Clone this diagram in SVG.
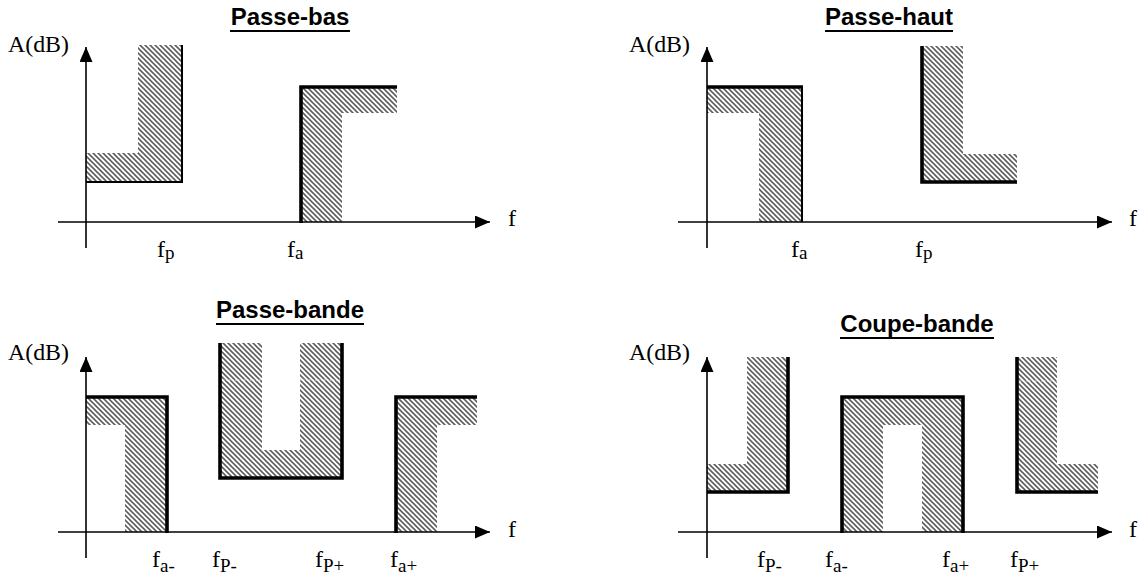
<svg xmlns="http://www.w3.org/2000/svg" width="1139" height="575" viewBox="0 0 1139 575">
  <defs>
    <!-- diagonal "\" hatching used for the template zones -->
    <pattern id="hatch" patternUnits="userSpaceOnUse" width="5" height="5">
      <rect width="5" height="5" fill="#ffffff"/>
      <path d="M-1,-1 L6,6 M-1,4 L1,6 M4,-1 L6,1" stroke="#5f5f5f" stroke-width="1.6"/>
    </pattern>
    <marker id="arrow" viewBox="0 0 15 13" refX="15" refY="6.5" markerWidth="15" markerHeight="13" markerUnits="userSpaceOnUse" orient="auto">
      <path d="M0,0 L15,6.5 L0,13 Z" fill="#000"/>
    </marker>
    <style>
      .axis-arrow { stroke: #000; stroke-width: 1.6; fill: none; marker-end: url(#arrow); }
      .zone { fill: url(#hatch); stroke: none; }
      .thin { stroke: #000; stroke-width: 2; fill: none; }
      .thick { stroke: #000; stroke-width: 3.6; fill: none; stroke-linejoin: miter; }
      .gap { stroke: #fff; stroke-width: 1; stroke-dasharray: 1.5 1.5; opacity: 0.85; }
      .title { font-family: "Liberation Sans", Arial, sans-serif; font-weight: bold; font-size: 24px; fill: #000; text-anchor: middle; }
      .uline { stroke: #000; stroke-width: 2; }
      .lbl { font-family: "Liberation Serif", "Times New Roman", serif; font-size: 24px; fill: #000; }
      .sub { font-size: 19px; }
    </style>
  </defs>

  <!-- Low-pass template -->
  <g id="passe-bas">
    <text class="title" x="290" y="25">Passe-bas</text>
    <line class="uline" x1="230" y1="31" x2="350" y2="31"/>
    <path class="zone" d="M86,153 H138 V45 H182 V182 H86 Z"/>
    <path class="zone" d="M301,87 H397 V113 H342 V222 H301 Z"/>
    <g id="axes-1">
      <line class="axis-arrow" x1="86" y1="248" x2="86" y2="47"/>
      <line class="axis-arrow" x1="58" y1="222" x2="490" y2="222"/>
    </g>
    <polyline class="thin" points="86,182 182,182 182,45"/>
    <polyline class="thick" points="301,223 301,87 397,87"/>
    <text class="lbl" x="8" y="52" textLength="61" lengthAdjust="spacingAndGlyphs">A(dB)</text>
    <text class="lbl" x="508" y="226">f</text>
    <text class="lbl" x="157" y="257">f<tspan class="sub" dy="2">p</tspan></text>
    <text class="lbl" x="287" y="257">f<tspan class="sub" dy="2">a</tspan></text>
  </g>

  <!-- High-pass template -->
  <g id="passe-haut">
    <text class="title" x="889" y="25">Passe-haut</text>
    <line class="uline" x1="825" y1="31" x2="953" y2="31"/>
    <path class="zone" d="M707,87 H802 V222 H759 V113 H707 Z"/>
    <path class="zone" d="M922,46 H963 V154 H1017 V182 H922 Z"/>
    <g id="axes-2">
      <line class="axis-arrow" x1="707" y1="248" x2="707" y2="47"/>
      <line class="axis-arrow" x1="678" y1="222" x2="1112" y2="222"/>
    </g>
    <line class="thick" x1="707" y1="87" x2="803" y2="87"/>
    <line class="thin" x1="802" y1="87" x2="802" y2="222"/>
    <polyline class="thick" points="922,46 922,182 1017,182"/>
    <text class="lbl" x="629" y="52" textLength="61" lengthAdjust="spacingAndGlyphs">A(dB)</text>
    <text class="lbl" x="1129" y="226">f</text>
    <text class="lbl" x="791" y="257">f<tspan class="sub" dy="2">a</tspan></text>
    <text class="lbl" x="915" y="257">f<tspan class="sub" dy="2">p</tspan></text>
  </g>

  <!-- Band-pass template -->
  <g id="passe-bande">
    <text class="title" x="290" y="318">Passe-bande</text>
    <line class="uline" x1="216" y1="324" x2="364" y2="324"/>
    <path class="zone" d="M86,397 H167 V532 H125 V425 H86 Z"/>
    <path class="zone" d="M220,343 H262 V450 H300 V343 H342 V478 H220 Z"/>
    <path class="zone" d="M396,397 H477 V425 H437 V532 H396 Z"/>
    <line class="gap" x1="220" y1="380" x2="262" y2="380"/>
    <line class="gap" x1="300" y1="380" x2="342" y2="380"/>
    <g id="axes-3">
      <line class="axis-arrow" x1="86" y1="558" x2="86" y2="357"/>
      <line class="axis-arrow" x1="58" y1="532" x2="490" y2="532"/>
    </g>
    <polyline class="thick" points="86,397 167,397 167,533"/>
    <polyline class="thick" points="220,343 220,478 342,478 342,343"/>
    <polyline class="thick" points="396,533 396,397 477,397"/>
    <text class="lbl" x="8" y="360" textLength="61" lengthAdjust="spacingAndGlyphs">A(dB)</text>
    <text class="lbl" x="508" y="537">f</text>
    <text class="lbl" x="152" y="567">f<tspan class="sub" dy="5">a-</tspan></text>
    <text class="lbl" x="212" y="567">f<tspan class="sub" dy="5">P-</tspan></text>
    <text class="lbl" x="315" y="567">f<tspan class="sub" dy="5">P+</tspan></text>
    <text class="lbl" x="390" y="567">f<tspan class="sub" dy="5">a+</tspan></text>
  </g>

  <!-- Band-stop template -->
  <g id="coupe-bande">
    <text class="title" x="917" y="332">Coupe-bande</text>
    <line class="uline" x1="840" y1="338" x2="994" y2="338"/>
    <path class="zone" d="M707,464 H747 V357 H788 V492 H707 Z"/>
    <path class="zone" d="M842,397 H963 V532 H922 V425 H883 V532 H842 Z"/>
    <path class="zone" d="M1017,357 H1057 V464 H1098 V492 H1017 Z"/>
    <line class="gap" x1="747" y1="381" x2="788" y2="381"/>
    <line class="gap" x1="1017" y1="381" x2="1057" y2="381"/>
    <g id="axes-4">
      <line class="axis-arrow" x1="707" y1="558" x2="707" y2="357"/>
      <line class="axis-arrow" x1="678" y1="532" x2="1112" y2="532"/>
    </g>
    <polyline class="thick" points="707,492 788,492 788,357"/>
    <polyline class="thick" points="842,533 842,397 963,397 963,533"/>
    <polyline class="thick" points="1017,357 1017,492 1098,492"/>
    <text class="lbl" x="629" y="360" textLength="61" lengthAdjust="spacingAndGlyphs">A(dB)</text>
    <text class="lbl" x="1129" y="537">f</text>
    <text class="lbl" x="757" y="567">f<tspan class="sub" dy="5">P-</tspan></text>
    <text class="lbl" x="825" y="567">f<tspan class="sub" dy="5">a-</tspan></text>
    <text class="lbl" x="942" y="567">f<tspan class="sub" dy="5">a+</tspan></text>
    <text class="lbl" x="1010" y="567">f<tspan class="sub" dy="5">P+</tspan></text>
  </g>
</svg>
